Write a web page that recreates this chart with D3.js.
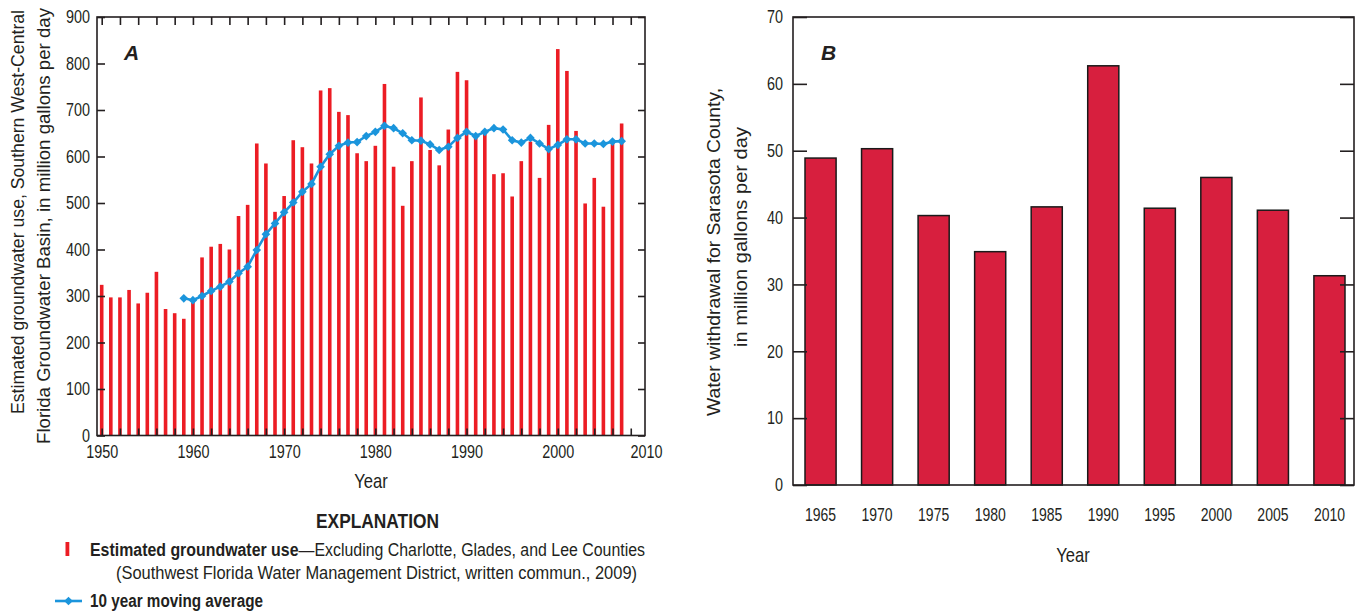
<!DOCTYPE html>
<html><head><meta charset="utf-8">
<script src="https://cdn.jsdelivr.net/npm/d3@7"></script>
<style>body{margin:0;background:#fff} svg text{fill:#231f20}</style>
</head><body>
<svg id="c" width="1359" height="613"></svg>
<script>
// ---------- Panel A data ----------
const yearsA = [1950,1951,1952,1953,1954,1955,1956,1957,1958,1959,1960,1961,1962,1963,1964,1965,1966,1967,1968,1969,
1970,1971,1972,1973,1974,1975,1976,1977,1978,1979,1980,1981,1982,1983,1984,1985,1986,1987,1988,1989,
1990,1991,1992,1993,1994,1995,1996,1997,1998,1999,2000,2001,2002,2003,2004,2005,2006,2007];
const usageA = [324,297,297,313,284,307,352,272,263,251,287,383,406,412,400,472,496,628,585,481,
515,635,620,585,742,747,696,689,607,590,623,756,578,494,590,727,614,581,658,782,
764,643,652,562,564,514,590,632,554,668,831,784,655,499,554,492,635,671];
const avgYears = [1959,1960,1961,1962,1963,1964,1965,1966,1967,1968,1969,1970,1971,1972,1973,1974,1975,1976,1977,1978,
1979,1980,1981,1982,1983,1984,1985,1986,1987,1988,1989,1990,1991,1992,1993,1994,1995,1996,1997,1998,
1999,2000,2001,2002,2003,2004,2005,2006,2007];
const avgA = [295,291,300,311,320,331,349,363,399,433,456,480,501,524,541,578,605,623,630,631,
644,653,666,661,650,635,634,626,614,621,640,653,644,653,661,658,635,630,640,628,
616,625,637,637,628,628,627,632,633];
const yTicksA = [0,100,200,300,400,500,600,700,800,900];
const xLabelsA = [1950,1960,1970,1980,1990,2000,2010];
const xMinorA = [1950,1952,1954,1956,1958,1960,1962,1964,1966,1968,1970,1972,1974,1976,1978,1980,1982,1984,1986,1988,
1990,1992,1994,1996,1998,2000,2002,2004,2006,2008];

// ---------- Panel B data ----------
const yearsB = ["1965","1970","1975","1980","1985","1990","1995","2000","2005","2010"];
const withdrawalB = [48.9,50.3,40.3,34.9,41.6,62.7,41.4,46.0,41.1,31.3];
const yTicksB = [0,10,20,30,40,50,60,70];

const FONT = "'Liberation Sans',Arial,Helvetica,sans-serif";
const INK = "#231f20";
const SX = 0.8; // horizontal compression to emulate a condensed face

const svg = d3.select("#c");

function condense(sel, sx){
  sel.each(function(){
    const t = d3.select(this);
    const x = +t.attr("x") || 0;
    t.attr("x", x / sx).attr("transform", `scale(${sx},1)`);
  });
}
function styleAxis(g, size){
  g.select(".domain").remove();
  g.selectAll("line").attr("stroke",INK).attr("stroke-width",1.6);
  g.selectAll("text").attr("font-family",FONT).attr("font-size",size||18).attr("fill",INK);
}

// ================= Panel A =================
const A = {left:97, right:645, top:17, bottom:435.5};
const xA = d3.scaleLinear().domain([1950,2010]).range([101.7,649]);
const yA = d3.scaleLinear().domain([0,900]).range([A.bottom,A.top]);
const gA = svg.append("g");

gA.selectAll("rect.bar").data(yearsA).join("rect")
  .attr("class","bar")
  .attr("x", d => xA(d) - 1.8)
  .attr("width", 3.6)
  .attr("y", (d,i) => yA(usageA[i]))
  .attr("height", (d,i) => yA(0) - yA(usageA[i]))
  .attr("fill", "#ec1c24");

gA.append("g").attr("transform",`translate(${A.left},0)`)
  .call(d3.axisLeft(yA).tickValues(yTicksA).tickSize(-8).tickPadding(7).tickFormat(d3.format("d")))
  .call(g => styleAxis(g, 18))
  .call(g => condense(g.selectAll("text"), SX));
gA.append("g").attr("transform",`translate(${A.right},0)`)
  .call(d3.axisRight(yA).tickValues(yTicksA).tickSize(-7).tickFormat(""))
  .call(g => styleAxis(g));
gA.append("g").attr("transform",`translate(0,${A.top})`)
  .call(d3.axisTop(xA).tickValues(xMinorA).tickSize(-8).tickFormat(""))
  .call(g => styleAxis(g));
gA.append("g").attr("transform",`translate(0,${A.bottom})`)
  .call(d3.axisBottom(xA).tickValues(xMinorA).tickSize(-7).tickFormat(""))
  .call(g => styleAxis(g));
const bl = gA.append("g").attr("transform",`translate(0,${A.bottom})`)
  .call(d3.axisBottom(xA).tickValues(xLabelsA).tickSize(0).tickPadding(10).tickFormat(d3.format("d")))
  .call(g => styleAxis(g, 18));
bl.selectAll(".tick").filter(d => xA(d) > A.right).select("text").attr("x", d => A.right - xA(d) + 1);
condense(bl.selectAll("text"), SX);

// moving average line
const lineA = d3.line().x(d => xA(d)).y((d,i) => yA(avgA[i]));
gA.append("path").datum(avgYears).attr("d", lineA)
  .attr("fill","none").attr("stroke","#1b95dc").attr("stroke-width",2.6);
gA.selectAll("path.mk").data(avgYears).join("path").attr("class","mk")
  .attr("transform",(d,i)=>`translate(${xA(d)},${yA(avgA[i])})`)
  .attr("d", d3.symbol(d3.symbolDiamond2, 48)())
  .attr("fill","#1b95dc");

gA.append("rect").attr("x",A.left).attr("y",A.top).attr("width",A.right-A.left).attr("height",A.bottom-A.top)
  .attr("fill","none").attr("stroke",INK).attr("stroke-width",1.6);

gA.append("text").attr("x",124).attr("y",60).text("A")
  .attr("font-family",FONT).attr("font-size",21).attr("font-weight","bold").attr("font-style","italic");

gA.append("text").attr("x",371).attr("y",488).attr("text-anchor","middle").text("Year")
  .attr("font-family",FONT).attr("font-size",20).call(s => condense(s, 0.83));

gA.append("text").attr("transform","translate(18,212) rotate(-90)").attr("dy","0.35em")
  .attr("text-anchor","middle").attr("font-family",FONT).attr("font-size",17.5)
  .attr("textLength",404).attr("lengthAdjust","spacingAndGlyphs")
  .text("Estimated groundwater use, Southern West-Central");
gA.append("text").attr("transform","translate(44,226) rotate(-90)").attr("dy","0.35em")
  .attr("text-anchor","middle").attr("font-family",FONT).attr("font-size",17.5)
  .attr("textLength",436).attr("lengthAdjust","spacingAndGlyphs")
  .text("Florida Groundwater Basin, in million gallons per day");

// legend
const lg = svg.append("g");
lg.append("text").attr("x",316).attr("y",528)
  .attr("font-family",FONT).attr("font-size",20).attr("font-weight","bold")
  .attr("textLength",123).attr("lengthAdjust","spacingAndGlyphs").text("EXPLANATION");
lg.append("rect").attr("x",65.5).attr("y",542).attr("width",3.8).attr("height",14).attr("fill","#ec1c24");
const t1 = lg.append("text").attr("x",90).attr("y",556).attr("font-family",FONT).attr("font-size",17.5)
  .attr("textLength",555).attr("lengthAdjust","spacingAndGlyphs");
t1.append("tspan").attr("font-weight","bold").text("Estimated groundwater use");
t1.append("tspan").text("\u2014Excluding Charlotte, Glades, and Lee Counties");
lg.append("text").attr("x",116).attr("y",579).attr("font-family",FONT).attr("font-size",17.5)
  .attr("textLength",521).attr("lengthAdjust","spacingAndGlyphs")
  .text("(Southwest Florida Water Management District, written commun., 2009)");
lg.append("line").attr("x1",55).attr("x2",82).attr("y1",601).attr("y2",601)
  .attr("stroke","#1b95dc").attr("stroke-width",2.6);
lg.append("path").attr("transform","translate(68.5,601)").attr("d", d3.symbol(d3.symbolDiamond2, 48)()).attr("fill","#1b95dc");
lg.append("text").attr("x",90).attr("y",607).attr("font-family",FONT).attr("font-size",17.5)
  .attr("font-weight","bold").attr("textLength",173).attr("lengthAdjust","spacingAndGlyphs")
  .text("10 year moving average");

// ================= Panel B =================
const B = {left:793, right:1354, top:17, bottom:485};
const xB = d3.scaleBand().domain(yearsB).range([805,1345]).paddingInner(0.45).paddingOuter(0);
const yB = d3.scaleLinear().domain([0,70]).range([B.bottom,B.top]);
const gB = svg.append("g");

gB.selectAll("rect.bb").data(yearsB).join("rect").attr("class","bb")
  .attr("x", d => xB(d)).attr("width", xB.bandwidth())
  .attr("y", (d,i) => yB(withdrawalB[i])).attr("height", (d,i) => yB(0) - yB(withdrawalB[i]))
  .attr("fill","#d71f3e").attr("stroke","#1a1a1a").attr("stroke-width",1.5);

gB.append("g").attr("transform",`translate(${B.left},0)`)
  .call(d3.axisLeft(yB).tickValues(yTicksB).tickSize(-14).tickPadding(10))
  .call(g => styleAxis(g, 18))
  .call(g => condense(g.selectAll("text"), SX));
gB.append("g").attr("transform",`translate(${B.right},0)`)
  .call(d3.axisRight(yB).tickValues(yTicksB).tickSize(-14).tickFormat(""))
  .call(g => styleAxis(g));
gB.append("g").attr("transform",`translate(0,${B.bottom})`)
  .call(d3.axisBottom(xB).tickSize(0).tickPadding(24))
  .call(g => styleAxis(g, 17.5))
  .call(g => condense(g.selectAll("text"), SX));

gB.append("rect").attr("x",B.left).attr("y",B.top).attr("width",B.right-B.left).attr("height",B.bottom-B.top)
  .attr("fill","none").attr("stroke",INK).attr("stroke-width",1.6);

gB.append("text").attr("x",821).attr("y",60).text("B")
  .attr("font-family",FONT).attr("font-size",21).attr("font-weight","bold").attr("font-style","italic");

gB.append("text").attr("x",1073).attr("y",562).attr("text-anchor","middle").text("Year")
  .attr("font-family",FONT).attr("font-size",20).call(s => condense(s, 0.83));

gB.append("text").attr("transform","translate(714,252) rotate(-90)").attr("dy","0.35em")
  .attr("text-anchor","middle").attr("font-family",FONT).attr("font-size",17.5)
  .attr("textLength",328).attr("lengthAdjust","spacingAndGlyphs")
  .text("Water withdrawal for Sarasota County,");
gB.append("text").attr("transform","translate(741,237) rotate(-90)").attr("dy","0.35em")
  .attr("text-anchor","middle").attr("font-family",FONT).attr("font-size",17.5)
  .attr("textLength",220).attr("lengthAdjust","spacingAndGlyphs")
  .text("in million gallons per day");
</script>
</body></html>
